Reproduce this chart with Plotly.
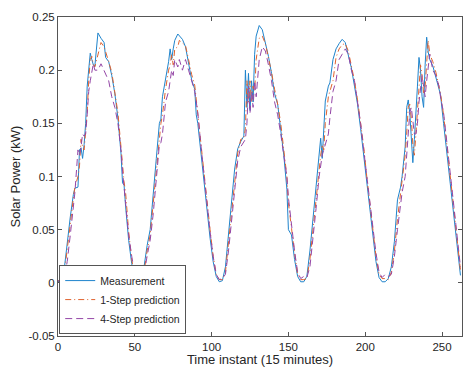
"""Solar power measurement vs. 1-step and 4-step predictions."""

import plotly.graph_objects as go

# sample index (15-minute steps) shared by all three series
time_idx = [
    0, 2, 4, 6, 8, 10, 11, 13, 14, 15, 16, 17, 18, 19, 20, 21, 22, 23, 24, 26,
    28, 30, 31, 33, 35, 37, 39, 41, 42, 43, 44, 46, 48, 50, 52,
    54, 56, 58, 60, 62, 64, 66, 67, 68, 69, 70, 72, 73, 74, 75, 76, 78, 79, 81,
    83, 85, 87, 89, 90, 91, 93, 95, 97, 99, 101, 103, 105,
    107, 109, 111, 113, 115, 117, 119, 121, 122, 123, 124, 125, 126, 127, 128,
    129, 131, 133, 135, 137, 139, 141, 143, 145, 147, 149, 150, 152, 154, 156, 158,
    160, 162, 164, 166, 168, 170, 171, 172, 173, 174, 176, 177, 179, 181, 183,
    185, 187, 189, 191, 193, 195, 197, 199, 201, 203, 205, 207, 209, 211,
    213, 215, 217, 219, 221, 223, 224, 226, 227, 228, 229, 230, 231, 232, 233,
    234, 235, 236, 237, 238, 239, 240, 241, 242, 244, 246, 248, 249, 251, 253,
    255, 257, 259, 261, 262,
]

measurement = [
    0.001, 0.002, 0.012, 0.038, 0.062, 0.083, 0.089, 0.090, 0.125, 0.127, 0.117, 0.130, 0.150, 0.185, 0.205, 0.216, 0.210, 0.205, 0.204, 0.235,
    0.230, 0.226, 0.212, 0.208, 0.195, 0.178, 0.155, 0.122, 0.094, 0.092, 0.072, 0.040, 0.018, 0.005, 0.001,
    0.001, 0.015, 0.035, 0.050, 0.088, 0.117, 0.150, 0.154, 0.175, 0.183, 0.190, 0.208, 0.220, 0.210, 0.220, 0.228, 0.234, 0.232, 0.229,
    0.222, 0.207, 0.191, 0.182, 0.158, 0.150, 0.122, 0.095, 0.070, 0.042, 0.020, 0.006, 0.001,
    0.002, 0.015, 0.046, 0.078, 0.107, 0.126, 0.133, 0.138, 0.200, 0.165, 0.197, 0.162, 0.190, 0.170, 0.215,
    0.232, 0.242, 0.238, 0.226, 0.213, 0.197, 0.178, 0.168, 0.145, 0.120, 0.088, 0.050, 0.045, 0.022, 0.006, 0.001,
    0.001, 0.006, 0.030, 0.060, 0.085, 0.118, 0.136, 0.117, 0.150, 0.171, 0.185, 0.188, 0.210, 0.220, 0.225,
    0.229, 0.226, 0.215, 0.202, 0.185, 0.168, 0.145, 0.120, 0.095, 0.068, 0.040, 0.020, 0.005, 0.001,
    0.001, 0.004, 0.015, 0.039, 0.078, 0.090, 0.100, 0.128, 0.165, 0.172, 0.160, 0.140, 0.113, 0.135, 0.168,
    0.185, 0.212, 0.200, 0.175, 0.165, 0.205, 0.231, 0.217, 0.210, 0.204, 0.193, 0.180, 0.177, 0.150, 0.125,
    0.097, 0.072, 0.046, 0.020, 0.007,
]

pred_1step = [
    0.002, 0.002, 0.008, 0.030, 0.055, 0.080, 0.090, 0.100, 0.110, 0.135, 0.128, 0.125, 0.140, 0.160, 0.190, 0.210, 0.213, 0.205, 0.203, 0.215,
    0.226, 0.222, 0.218, 0.208, 0.198, 0.180, 0.160, 0.128, 0.110, 0.095, 0.085, 0.048, 0.022, 0.006, 0.003,
    0.004, 0.010, 0.030, 0.045, 0.075, 0.110, 0.140, 0.150, 0.158, 0.172, 0.182, 0.200, 0.205, 0.215, 0.205, 0.220, 0.222, 0.228, 0.225,
    0.223, 0.210, 0.196, 0.186, 0.172, 0.158, 0.130, 0.100, 0.076, 0.050, 0.025, 0.008, 0.003,
    0.003, 0.010, 0.038, 0.070, 0.100, 0.122, 0.135, 0.136, 0.145, 0.190, 0.170, 0.190, 0.170, 0.185, 0.180,
    0.210, 0.230, 0.232, 0.225, 0.212, 0.198, 0.182, 0.168, 0.150, 0.125, 0.100, 0.075, 0.050, 0.028, 0.008, 0.003,
    0.003, 0.004, 0.022, 0.050, 0.080, 0.110, 0.120, 0.130, 0.125, 0.150, 0.175, 0.180, 0.190, 0.212, 0.220,
    0.224, 0.225, 0.218, 0.205, 0.190, 0.172, 0.150, 0.128, 0.100, 0.075, 0.048, 0.025, 0.008, 0.004,
    0.004, 0.003, 0.010, 0.030, 0.060, 0.085, 0.092, 0.120, 0.140, 0.165, 0.168, 0.155, 0.130, 0.120, 0.140,
    0.165, 0.185, 0.205, 0.195, 0.178, 0.185, 0.210, 0.228, 0.215, 0.208, 0.198, 0.185, 0.178, 0.158, 0.132,
    0.105, 0.078, 0.052, 0.025, 0.012,
]

pred_4step = [
    0.002, 0.001, 0.004, 0.020, 0.045, 0.070, 0.085, 0.125, 0.120, 0.128, 0.140, 0.138, 0.140, 0.158, 0.180, 0.190, 0.200, 0.206, 0.200, 0.200,
    0.206, 0.200, 0.196, 0.190, 0.175, 0.165, 0.150, 0.125, 0.105, 0.090, 0.080, 0.045, 0.025, 0.008, 0.004,
    0.006, 0.008, 0.025, 0.040, 0.065, 0.100, 0.130, 0.132, 0.140, 0.155, 0.170, 0.180, 0.190, 0.200, 0.195, 0.210, 0.203, 0.210, 0.200,
    0.210, 0.200, 0.190, 0.180, 0.170, 0.160, 0.130, 0.100, 0.075, 0.048, 0.025, 0.008, 0.003,
    0.004, 0.008, 0.030, 0.060, 0.090, 0.115, 0.128, 0.132, 0.135, 0.150, 0.185, 0.160, 0.180, 0.165, 0.190,
    0.175, 0.210, 0.222, 0.218, 0.205, 0.190, 0.170, 0.158, 0.140, 0.120, 0.100, 0.080, 0.052, 0.030, 0.010, 0.004,
    0.006, 0.005, 0.015, 0.040, 0.070, 0.100, 0.112, 0.120, 0.125, 0.130, 0.140, 0.155, 0.180, 0.190, 0.210,
    0.215, 0.220, 0.215, 0.200, 0.190, 0.170, 0.150, 0.125, 0.100, 0.075, 0.050, 0.028, 0.010, 0.005,
    0.008, 0.006, 0.008, 0.025, 0.050, 0.075, 0.085, 0.100, 0.120, 0.140, 0.160, 0.165, 0.150, 0.140, 0.140,
    0.150, 0.170, 0.180, 0.195, 0.185, 0.175, 0.190, 0.205, 0.215, 0.200, 0.195, 0.185, 0.175, 0.160, 0.135,
    0.110, 0.082, 0.055, 0.028, 0.015,
]

x_ticks = [0, 50, 100, 150, 200, 250]
y_ticks = [-0.05, 0, 0.05, 0.1, 0.15, 0.2, 0.25]
y_tick_labels = ["-0.05", "0", "0.05", "0.1", "0.15", "0.2", "0.25"]

AXIS_COLOR = "#262626"
FONT = "Liberation Sans, Arial, sans-serif"

fig = go.Figure()
fig.add_trace(go.Scatter(
    x=time_idx, y=measurement, mode="lines", name="Measurement",
    line=dict(color="#1f84cc", width=1),
))
fig.add_trace(go.Scatter(
    x=time_idx, y=pred_1step, mode="lines", name="1-Step prediction",
    line=dict(color="#e0622e", width=1, dash="6px,3px,1px,3px"),
))
fig.add_trace(go.Scatter(
    x=time_idx, y=pred_4step, mode="lines", name="4-Step prediction",
    line=dict(color="#9446a6", width=1, dash="7px,4px"),
))

axis_style = dict(
    showline=True, linecolor="#555555", linewidth=1, mirror="ticks",
    ticks="inside", ticklen=4, tickcolor="#555555", showgrid=False,
    zeroline=False, automargin=False,
    tickfont=dict(size=11.5, color=AXIS_COLOR),
)

# the page body keeps its default 8px margin, so the figure is 8px smaller
fig.update_layout(
    template="none",
    width=463,
    height=359,
    margin=dict(l=50, r=9, t=9, b=31),
    paper_bgcolor="white",
    plot_bgcolor="white",
    font=dict(family=FONT, color=AXIS_COLOR),
    showlegend=True,
    legend=dict(
        x=0.003, y=0.006, xanchor="left", yanchor="bottom",
        bgcolor="white", bordercolor="#555555", borderwidth=1,
        font=dict(size=10.5, color=AXIS_COLOR),
    ),
    xaxis=dict(
        range=[0, 263], tickvals=x_ticks,
        title=dict(text="Time instant (15 minutes)", font=dict(size=13), standoff=2),
        **axis_style,
    ),
    yaxis=dict(
        range=[-0.05, 0.25], tickvals=y_ticks, ticktext=y_tick_labels,
        title=dict(text="Solar Power (kW)", font=dict(size=13), standoff=7),
        **axis_style,
    ),
)

fig.write_html("out.html")
